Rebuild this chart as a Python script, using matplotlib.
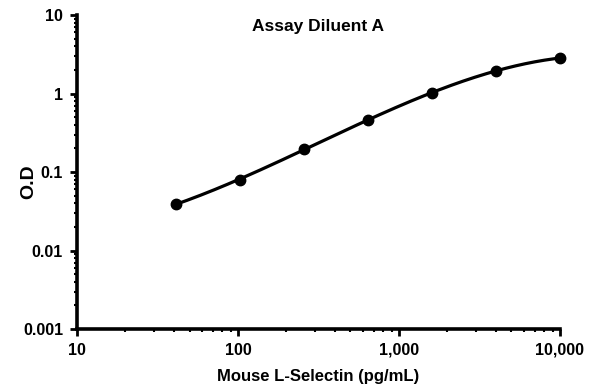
import numpy as np
import matplotlib.pyplot as plt
from matplotlib.ticker import LogLocator

# данные стандартной кривой
conc = [41, 102.4, 256, 640, 1600, 4000, 10000]
od = [0.039, 0.079, 0.196, 0.46, 1.02, 1.93, 2.84]

x_ticks = [10, 100, 1000, 10000]
x_labels = ['10', '100', '1,000', '10,000']
y_ticks = [0.001, 0.01, 0.1, 1, 10]
y_labels = ['0.001', '0.01', '0.1', '1', '10']

plt.rcParams['font.family'] = ['Liberation Sans', 'DejaVu Sans']
plt.rcParams['font.weight'] = 'bold'

fig = plt.figure(figsize=(5.95, 3.92), dpi=100)
ax = fig.add_axes([0.1294, 0.1607, 0.8116, 0.801])

# гладкая кривая через точки (полином в лог-лог координатах)
lx = np.log10(conc)
ly = np.log10(od)
coef = np.polyfit(lx, ly, 3)
xs = np.linspace(lx[0], lx[-1], 200)
ax.plot(10 ** xs, 10 ** np.polyval(coef, xs), '-', color='black', lw=2.3, clip_on=False)
ax.plot(conc, od, 'o', color='black', ms=7.5, clip_on=False)

ax.set_xscale('log')
ax.set_yscale('log')
ax.set_xlim(10, 10000)
ax.set_ylim(0.001, 10)

ax.set_xticks(x_ticks)
ax.set_xticklabels(x_labels)
ax.set_yticks(y_ticks)
ax.set_yticklabels(y_labels)
ax.xaxis.set_minor_locator(LogLocator(base=10, subs=np.arange(2, 10)))
ax.yaxis.set_minor_locator(LogLocator(base=10, subs=np.arange(2, 10)))

for s in ['top', 'right']:
    ax.spines[s].set_visible(False)
for s in ['left', 'bottom']:
    ax.spines[s].set_linewidth(2.6)

ax.tick_params(which='major', direction='out', length=5, width=2, labelsize=11.5, pad=5)
ax.tick_params(which='minor', direction='out', length=2.5, width=1.5)

ax.set_xlabel('Mouse L-Selectin (pg/mL)', fontsize=12, fontweight='bold')
ax.xaxis.set_label_coords(0.5, -0.128)
ax.set_ylabel('O.D', fontsize=14, fontweight='bold')
ax.yaxis.set_label_coords(-0.082, 0.47)
ax.text(0.5, 0.962, 'Assay Diluent A', transform=ax.transAxes, ha='center', va='center',
        fontsize=12.5, fontweight='bold')

fig.savefig('out.png', dpi=100)
